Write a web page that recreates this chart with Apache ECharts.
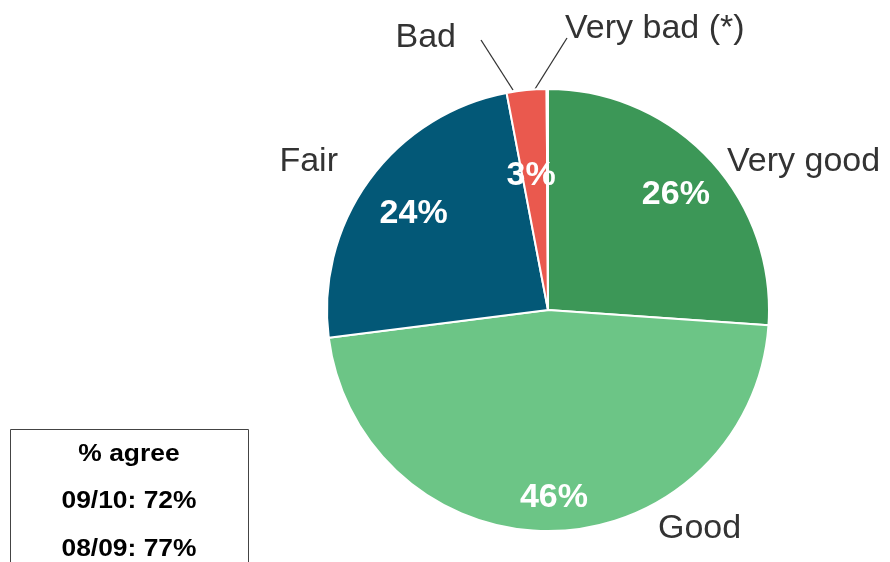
<!DOCTYPE html>
<html>
<head>
<meta charset="utf-8">
<script src="https://cdn.jsdelivr.net/npm/echarts@6/dist/echarts.min.js"></script>
<style>
  html, body { margin: 0; padding: 0; background: #fff; }
  #chart { width: 890px; height: 562px; }
</style>
</head>
<body>
<div id="chart"></div>
<script>
// ratings, clockwise from 12 o'clock
const categories = ['Very good', 'Good', 'Fair', 'Bad', 'Very bad (*)'];
const values = [26.1, 46.9, 24.0, 2.9, 0.1];
const pctLabels = ['26%', '46%', '24%', '3%', ''];
const colors = ['#3c9757', '#6cc586', '#035877', '#ea594e', '#ea594e'];
const boxLines = ['% agree', '09/10: 72%', '08/09: 77%'];

// where the category names sit (text anchor) and their leader lines
const namePos = [
  { x: 727, y: 162, align: 'left' },
  { x: 658, y: 529, align: 'left' },
  { x: 338, y: 162, align: 'right' },
  { x: 456, y: 38, align: 'right', line: [[513, 90], [481, 40]] },
  { x: 565, y: 29, align: 'left', line: [[535, 89], [567, 38]] }
];
// nudges for the white percentage labels
const pctShift = [[1, 3], [1, 14], [6, 6], [0, 38], [0, 0]];

const font = '"Liberation Sans", Arial, Helvetica, sans-serif';
const chart = echarts.init(document.getElementById('chart'));

const option = {
  animation: false,
  series: [
    {
      // the slices + category names
      type: 'pie',
      left: 0,
      top: 0,
      right: -200,
      bottom: 0,
      center: [548, 310],
      radius: 221,
      startAngle: 90,
      clockwise: true,
      itemStyle: { borderColor: '#fff', borderWidth: 2 },
      label: {
        show: true,
        position: 'outside',
        formatter: '{b}',
        color: '#333',
        fontSize: 34,
        fontFamily: font,
        overflow: 'none'
      },
      labelLine: { show: false, length: 20, length2: 0, lineStyle: { color: '#333', width: 1.3 } },
      labelLayout: function (p) {
        const pos = namePos[p.dataIndex];
        const out = { x: pos.x, y: pos.y, align: pos.align, verticalAlign: 'middle' };
        if (pos.line) out.labelLinePoints = pos.line;
        return out;
      },
      emphasis: { disabled: true },
      data: categories.map((c, i) => ({
        name: c,
        value: values[i],
        itemStyle: { color: colors[i] },
        labelLine: { show: i >= 3 }
      }))
    },
    {
      // transparent ring that only carries the percentage labels
      type: 'pie',
      center: [548, 310],
      radius: [120, 221],
      startAngle: 90,
      clockwise: true,
      silent: true,
      itemStyle: { color: 'rgba(0,0,0,0)', borderWidth: 0 },
      label: {
        show: true,
        position: 'inside',
        formatter: p => pctLabels[p.dataIndex],
        color: '#fff',
        fontSize: 34,
        fontWeight: 'bold',
        fontFamily: font
      },
      labelLayout: function (p) {
        const s = pctShift[p.dataIndex];
        return { dx: s[0], dy: s[1] };
      },
      labelLine: { show: false },
      emphasis: { disabled: true },
      data: categories.map((c, i) => ({ name: c, value: values[i] }))
    }
  ],
  graphic: [
    {
      type: 'rect',
      shape: { x: 10.5, y: 429.5, width: 238, height: 160 },
      style: { fill: '#fff', stroke: '#444', lineWidth: 1 }
    }
  ].concat(boxLines.map((t, i) => ({
    type: 'text',
    x: 129,
    y: 454 + i * 47.5,
    scaleX: 1.1,
    style: {
      text: t,
      fill: '#000',
      font: 'bold 24px ' + font,
      textAlign: 'center',
      textVerticalAlign: 'middle'
    }
  })))
};

chart.setOption(option);
</script>
</body>
</html>
